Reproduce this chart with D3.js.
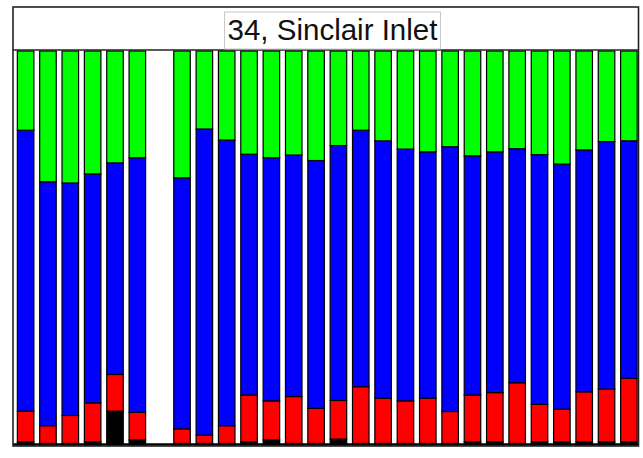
<!DOCTYPE html>
<html>
<head>
<meta charset="utf-8">
<script src="https://cdn.jsdelivr.net/npm/d3@7"></script>
<style>
  body { margin: 0; background: #fff; }
  #chart { width: 643px; height: 458px; }
  .bar { stroke: #000; stroke-width: 1.2; }
</style>
</head>
<body>
<div id="chart"></div>
<script>
// stacked shares in %, bottom to top; slot 7 has no data
let samples = d3.range(1, 29).map(String)
let black = [0.8, 0.4, 0.4, 0.8, 8.6, 1.3, null, 0.4, 0.4, 0.4, 0.8, 1.3, 0.4, 0.4, 1.5, 0.4, 0.4, 0.4, 0.4, 0.4, 0.8, 0.8, 0.4, 0.8, 0.8, 0.8, 0.8, 0.8]
let red = [7.8, 4.5, 7.1, 9.9, 9.3, 7.0, null, 3.7, 2.1, 4.5, 11.9, 9.9, 11.9, 8.9, 9.8, 14.4, 11.5, 10.8, 11.5, 8.1, 11.9, 12.5, 15.4, 9.5, 8.3, 12.7, 13.4, 16.1]
let blue = [71.3, 61.9, 59.0, 58.1, 53.7, 64.6, null, 63.7, 77.7, 72.5, 61.1, 61.7, 61.3, 62.9, 64.7, 65.1, 65.3, 63.9, 62.5, 67.2, 60.7, 61.1, 59.4, 63.4, 62.2, 61.4, 62.8, 60.3]
let green = [20.1, 33.2, 33.5, 31.2, 28.4, 27.1, null, 32.2, 19.8, 22.6, 26.2, 27.1, 26.4, 27.8, 24.0, 20.1, 22.8, 24.9, 25.6, 24.3, 26.6, 25.6, 24.8, 26.3, 28.7, 25.1, 23.0, 22.8]
let title = "34, Sinclair Inlet"

let series = [
  { key: "black", values: black, color: "#000000" },
  { key: "red", values: red, color: "#ff0000" },
  { key: "blue", values: blue, color: "#0000ff" },
  { key: "green", values: green, color: "#00ff00" }
]

let rows = samples.map((s, i) => {
  let row = { sample: s, empty: black[i] === null }
  series.forEach(se => { row[se.key] = se.values[i] || 0 })
  return row
})

let frame = { left: 13, right: 638.5, top: 7, bottom: 446, titleBottom: 50 }

let svg = d3.select("#chart").append("svg")
  .attr("width", 643)
  .attr("height", 458)

// scales
let x = d3.scaleBand()
  .domain(samples)
  .range([14, 640.5])
  .paddingInner(0.26)
  .paddingOuter(0.15)
let y = d3.scaleLinear().domain([0, 100]).range([445, 51])

let stack = d3.stack().keys(series.map(s => s.key))
let layers = stack(rows)

let g = svg.append("g")

g.selectAll(".layer")
  .data(layers)
  .enter()
  .append("g")
  .attr("class", "layer")
  .attr("fill", (d, i) => series[i].color)
  .selectAll("rect")
  .data(d => d.filter(p => !p.data.empty))
  .enter()
  .append("rect")
  .attr("class", "bar")
  .attr("x", d => x(d.data.sample))
  .attr("width", x.bandwidth())
  .attr("y", d => y(d[1]))
  .attr("height", d => Math.max(0, y(d[0]) - y(d[1])))

// baseline
svg.append("line")
  .attr("x1", frame.left).attr("x2", frame.right)
  .attr("y1", 444.5).attr("y2", 444.5)
  .attr("stroke", "#000").attr("stroke-width", 2.5)

// outer frame and title strip
svg.append("rect")
  .attr("x", frame.left).attr("y", frame.top)
  .attr("width", frame.right - frame.left)
  .attr("height", frame.bottom - frame.top)
  .attr("fill", "none")
  .attr("stroke", "#222").attr("stroke-width", 1.6)

svg.append("line")
  .attr("x1", frame.left).attr("x2", frame.right)
  .attr("y1", frame.titleBottom).attr("y2", frame.titleBottom)
  .attr("stroke", "#222").attr("stroke-width", 1.6)

// title
let label = svg.append("text")
  .attr("x", 332.5)
  .attr("y", 40)
  .attr("text-anchor", "middle")
  .attr("font-family", "Liberation Sans, Arial, sans-serif")
  .attr("font-size", 29.5)
  .attr("fill", "#111")
  .text(title)

let bb = label.node().getBBox()
svg.insert("rect", "text")
  .attr("x", bb.x - 3).attr("y", 12)
  .attr("width", bb.width + 6).attr("height", 37)
  .attr("fill", "#fff")
  .attr("stroke", "#c8c8c8").attr("stroke-width", 1)
</script>
</body>
</html>
